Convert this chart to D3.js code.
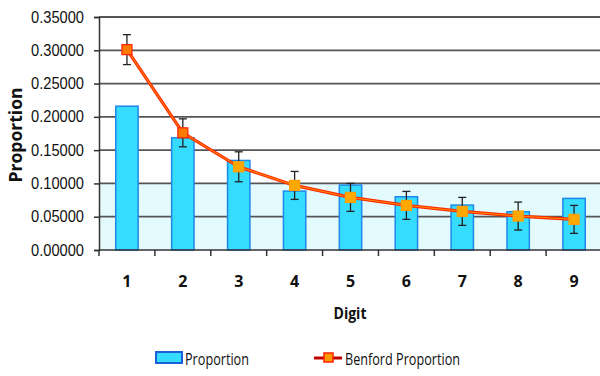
<!DOCTYPE html>
<html><head><meta charset="utf-8">
<script src="https://cdn.jsdelivr.net/npm/d3@7"></script>
<style>
body{margin:0;background:#fff;}
svg{display:block;font-family:"Open Sans",sans-serif;}
</style></head>
<body>
<svg id="chart" width="600" height="376"></svg>
<script>
const digits = ["1","2","3","4","5","6","7","8","9"];
const proportion = [0.216, 0.1685, 0.1345, 0.0885, 0.0975, 0.080, 0.0675, 0.0575, 0.0775];
const benford = [0.301, 0.176, 0.125, 0.097, 0.079, 0.067, 0.058, 0.051, 0.046];
const benfordError = [0.0225, 0.021, 0.0225, 0.021, 0.021, 0.021, 0.021, 0.021, 0.021];
const yTicks = [0, 0.05, 0.10, 0.15, 0.20, 0.25, 0.30, 0.35];

const svg = d3.select("#chart");
const pLeft = 99, pRight = 602, pTop = 17, pBottom = 250;

const x = d3.scaleBand().domain(digits).range([pLeft, pRight]).paddingInner(0.6).paddingOuter(0.3);
const xStep = d3.scaleBand().domain(digits).range([pLeft, pRight]);
const y = d3.scaleLinear().domain([0, 0.35]).range([pBottom, pTop]);

// background band
svg.append("rect").attr("x", pLeft).attr("y", y(0.10)).attr("width", pRight - pLeft)
  .attr("height", y(0) - y(0.10)).attr("fill", "#e4fbfe");

// gridlines
svg.append("g").selectAll("line").data(yTicks.slice(1)).join("line")
  .attr("x1", pLeft).attr("x2", 600).attr("y1", d => y(d)).attr("y2", d => y(d))
  .attr("stroke", "#555").attr("stroke-width", 1.8);

// y axis
const yAxis = d3.axisLeft(y).tickValues(yTicks).tickFormat(d3.format(".5f")).tickSize(5).tickPadding(10);
const gy = svg.append("g").attr("transform", `translate(${pLeft},0)`).call(yAxis);
gy.select(".domain").attr("stroke", "#333").attr("stroke-width", 1.5);
gy.selectAll(".tick line").attr("stroke", "#333").attr("stroke-width", 1.5);
gy.selectAll("text").attr("font-size", 16).attr("fill", "#111")
  .attr("textLength", 53).attr("lengthAdjust", "spacingAndGlyphs");

// bars
svg.append("g").selectAll("rect").data(proportion).join("rect")
  .attr("x", (d, i) => x(digits[i])).attr("width", x.bandwidth())
  .attr("y", d => y(d)).attr("height", d => y(0) - y(d))
  .attr("fill", "#36dcfe").attr("stroke", "#1e88e8").attr("stroke-width", 1.5);

// x axis
const gx = svg.append("g").attr("transform", `translate(0,${pBottom})`);
gx.append("line").attr("x1", pLeft).attr("x2", 600).attr("y1", 0).attr("y2", 0)
  .attr("stroke", "#333").attr("stroke-width", 1.5);
gx.selectAll(".tk").data(digits).join("line").attr("class", "tk")
  .attr("x1", d => xStep(d)).attr("x2", d => xStep(d)).attr("y1", 0).attr("y2", 6)
  .attr("stroke", "#333").attr("stroke-width", 1.5);
gx.selectAll(".lbl").data(digits).join("text").attr("class", "lbl")
  .attr("x", d => xStep(d) + xStep.bandwidth() / 2).attr("y", 37)
  .attr("text-anchor", "middle").attr("font-size", 16).attr("font-weight", "bold").attr("fill", "#111")
  .text(d => d);

// line
const cx = i => xStep(digits[i]) + xStep.bandwidth() / 2;
const lineGen = d3.line().x((d, i) => cx(i)).y(d => y(d));
svg.append("path").datum(benford).attr("d", lineGen).attr("fill", "none")
  .attr("stroke", "#ff2a00").attr("stroke-width", 3.2);
svg.append("path").datum(benford).attr("d", lineGen).attr("fill", "none")
  .attr("stroke", "#ff8a00").attr("stroke-width", 1);

// error bars
const eb = svg.append("g").attr("stroke", "#222").attr("stroke-width", 1.3);
benford.forEach((v, i) => {
  const c = cx(i), e = benfordError[i];
  eb.append("line").attr("x1", c).attr("x2", c).attr("y1", y(v + e)).attr("y2", y(v - e));
  eb.append("line").attr("x1", c - 4).attr("x2", c + 4).attr("y1", y(v + e)).attr("y2", y(v + e));
  eb.append("line").attr("x1", c - 4).attr("x2", c + 4).attr("y1", y(v - e)).attr("y2", y(v - e));
});

// markers
svg.append("g").selectAll("rect").data(benford).join("rect")
  .attr("x", (d, i) => cx(i) - 5).attr("y", d => y(d) - 5).attr("width", 10).attr("height", 10)
  .attr("fill", (d, i) => i < 2 ? "#ff7a00" : "#ffa800")
  .attr("stroke", (d, i) => i < 2 ? "#ff2000" : "#ffa000").attr("stroke-width", 1.2);

// axis titles
svg.append("text").attr("transform", "translate(22,135) rotate(-90)")
  .attr("text-anchor", "middle").attr("font-size", 17).attr("font-weight", "bold")
  .attr("fill", "#111").attr("textLength", 95).attr("lengthAdjust", "spacingAndGlyphs").text("Proportion");
svg.append("text").attr("x", 350).attr("y", 319).attr("text-anchor", "middle")
  .attr("font-size", 16).attr("font-weight", "bold").attr("fill", "#111")
  .attr("textLength", 33).attr("lengthAdjust", "spacingAndGlyphs").text("Digit");

// legend
const lg = svg.append("g");
lg.append("rect").attr("x", 156).attr("y", 352).attr("width", 26).attr("height", 11)
  .attr("fill", "#36dcfe").attr("stroke", "#1a5fd8").attr("stroke-width", 2);
lg.append("text").attr("x", 185).attr("y", 365).attr("font-size", 17).attr("fill", "#111")
  .attr("textLength", 64).attr("lengthAdjust", "spacingAndGlyphs").text("Proportion");
lg.append("line").attr("x1", 314).attr("x2", 342).attr("y1", 358).attr("y2", 358)
  .attr("stroke", "#c00000").attr("stroke-width", 3);
lg.append("rect").attr("x", 324).attr("y", 353).attr("width", 9).attr("height", 9)
  .attr("fill", "#ff9a00").attr("stroke", "#ff2000").attr("stroke-width", 1.5);
lg.append("text").attr("x", 345).attr("y", 365).attr("font-size", 17).attr("fill", "#111")
  .attr("textLength", 115).attr("lengthAdjust", "spacingAndGlyphs").text("Benford Proportion");
</script>
</body></html>
